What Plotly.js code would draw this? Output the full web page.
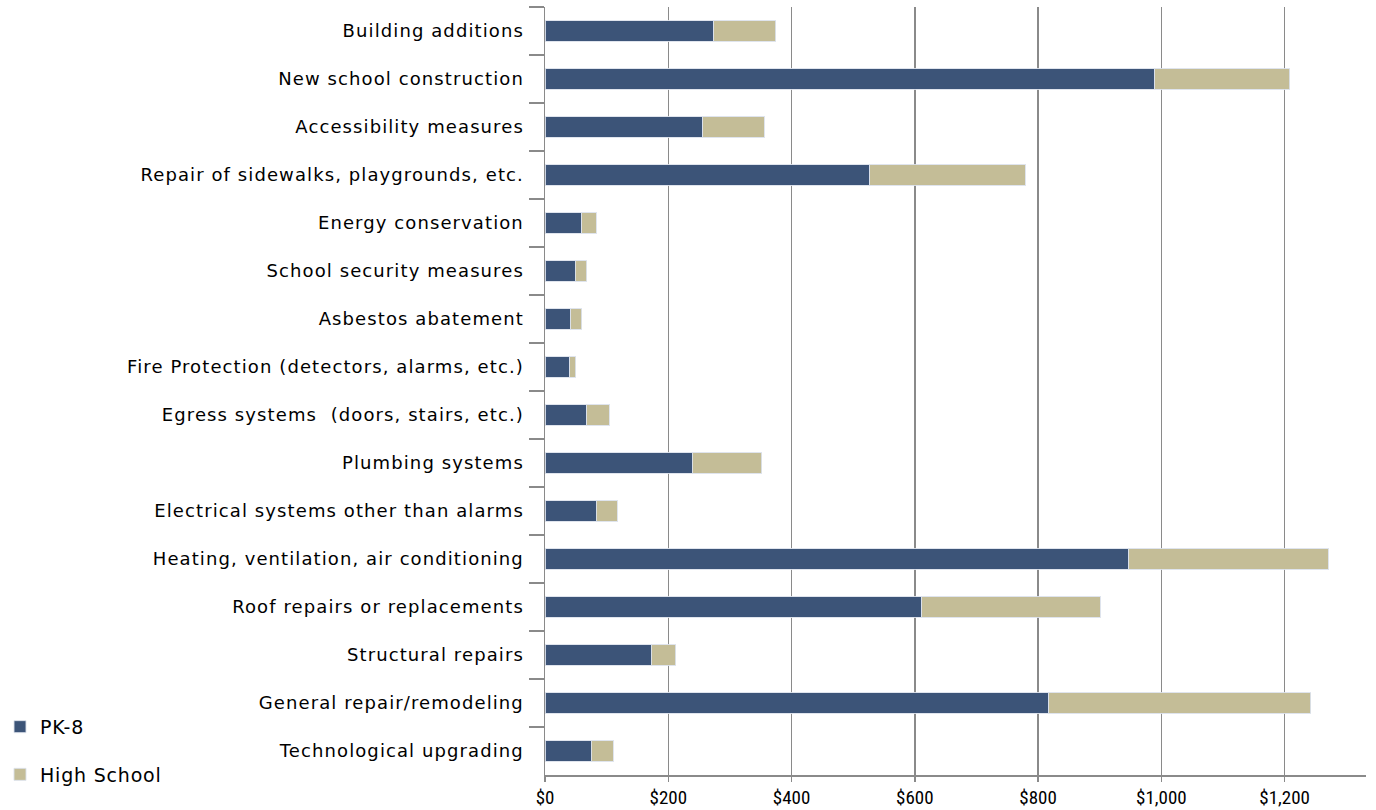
<!DOCTYPE html>
<html>
<head>
<meta charset="utf-8">
<script src="https://cdn.plot.ly/plotly-3.0.1.min.js"></script>
<style>
html,body{margin:0;padding:0;background:#fff;}
#chart{width:1376px;height:810px;}
.ytick text{letter-spacing:1.1px;}
.legendtext{letter-spacing:0.8px;}
</style>
</head>
<body>
<div id="chart"></div>
<script>
const categories = [
  "Building additions",
  "New school construction",
  "Accessibility measures",
  "Repair of sidewalks, playgrounds, etc.",
  "Energy conservation",
  "School security measures",
  "Asbestos abatement",
  "Fire Protection (detectors, alarms, etc.)",
  "Egress systems  (doors, stairs, etc.)",
  "Plumbing systems",
  "Electrical systems other than alarms",
  "Heating, ventilation, air conditioning",
  "Roof repairs or replacements",
  "Structural repairs",
  "General repair/remodeling",
  "Technological upgrading"
];
const pk8 = [274, 989, 256, 527, 60, 49, 42, 40, 68, 239, 83, 947, 611, 172, 817, 75];
const highSchool = [100, 219, 100, 252, 23, 19, 18, 10, 36, 113, 34, 324, 290, 40, 425, 36];
const xTickVals = [0, 200, 400, 600, 800, 1000, 1200];
const xTickText = ["$0", "$200", "$400", "$600", "$800", "$1,000", "$1,200"];

const barLine = {color: "rgba(220,225,235,0.9)", width: 1};
const traces = [
  {type: "bar", orientation: "h", name: "PK-8", y: categories, x: pk8,
   legendgroup: "a", marker: {color: "#3C5478", line: barLine}},
  {type: "bar", orientation: "h", name: "High School", y: categories, x: highSchool,
   legendgroup: "b", marker: {color: "#C4BD97", line: barLine}}
];

const layout = {
  width: 1376, height: 810,
  margin: {l: 545, r: 10, t: 7, b: 35},
  barmode: "stack",
  bargap: 0.58,
  paper_bgcolor: "#fff", plot_bgcolor: "#fff",
  font: {family: "DejaVu Sans, Verdana, sans-serif", color: "#000"},
  showlegend: true,
  legend: {
    xref: "container", yref: "container",
    x: 0, y: 0.02, xanchor: "left", yanchor: "bottom",
    font: {size: 19, family: "DejaVu Sans, sans-serif"},
    traceorder: "grouped", itemwidth: 30, tracegroupgap: 20,
    bgcolor: "rgba(0,0,0,0)"
  },
  xaxis: {
    range: [0, 1332],
    tickvals: xTickVals, ticktext: xTickText,
    showgrid: true, gridcolor: "#8a8a8a", gridwidth: 1.5,
    showline: true, linecolor: "#8a8a8a", linewidth: 1.5,
    ticks: "outside", ticklen: 5, tickcolor: "#8a8a8a", tickwidth: 1.5,
    zeroline: false,
    tickfont: {size: 19, family: "Liberation Sans Narrow, Roboto Condensed, Liberation Sans, sans-serif"},
    fixedrange: true
  },
  yaxis: {
    type: "category",
    autorange: "reversed",
    showline: true, linecolor: "#8a8a8a", linewidth: 1.5,
    ticks: "outside", ticklen: 15, tickcolor: "#8a8a8a", tickwidth: 1.5,
    tickson: "boundaries",
    showgrid: false, zeroline: false,
    tickfont: {size: 18, family: "DejaVu Sans, Verdana, sans-serif"},
    ticklabelstandoff: 16,
    fixedrange: true
  }
};

Plotly.newPlot("chart", traces, layout, {displayModeBar: false, staticPlot: true});
</script>
</body>
</html>
